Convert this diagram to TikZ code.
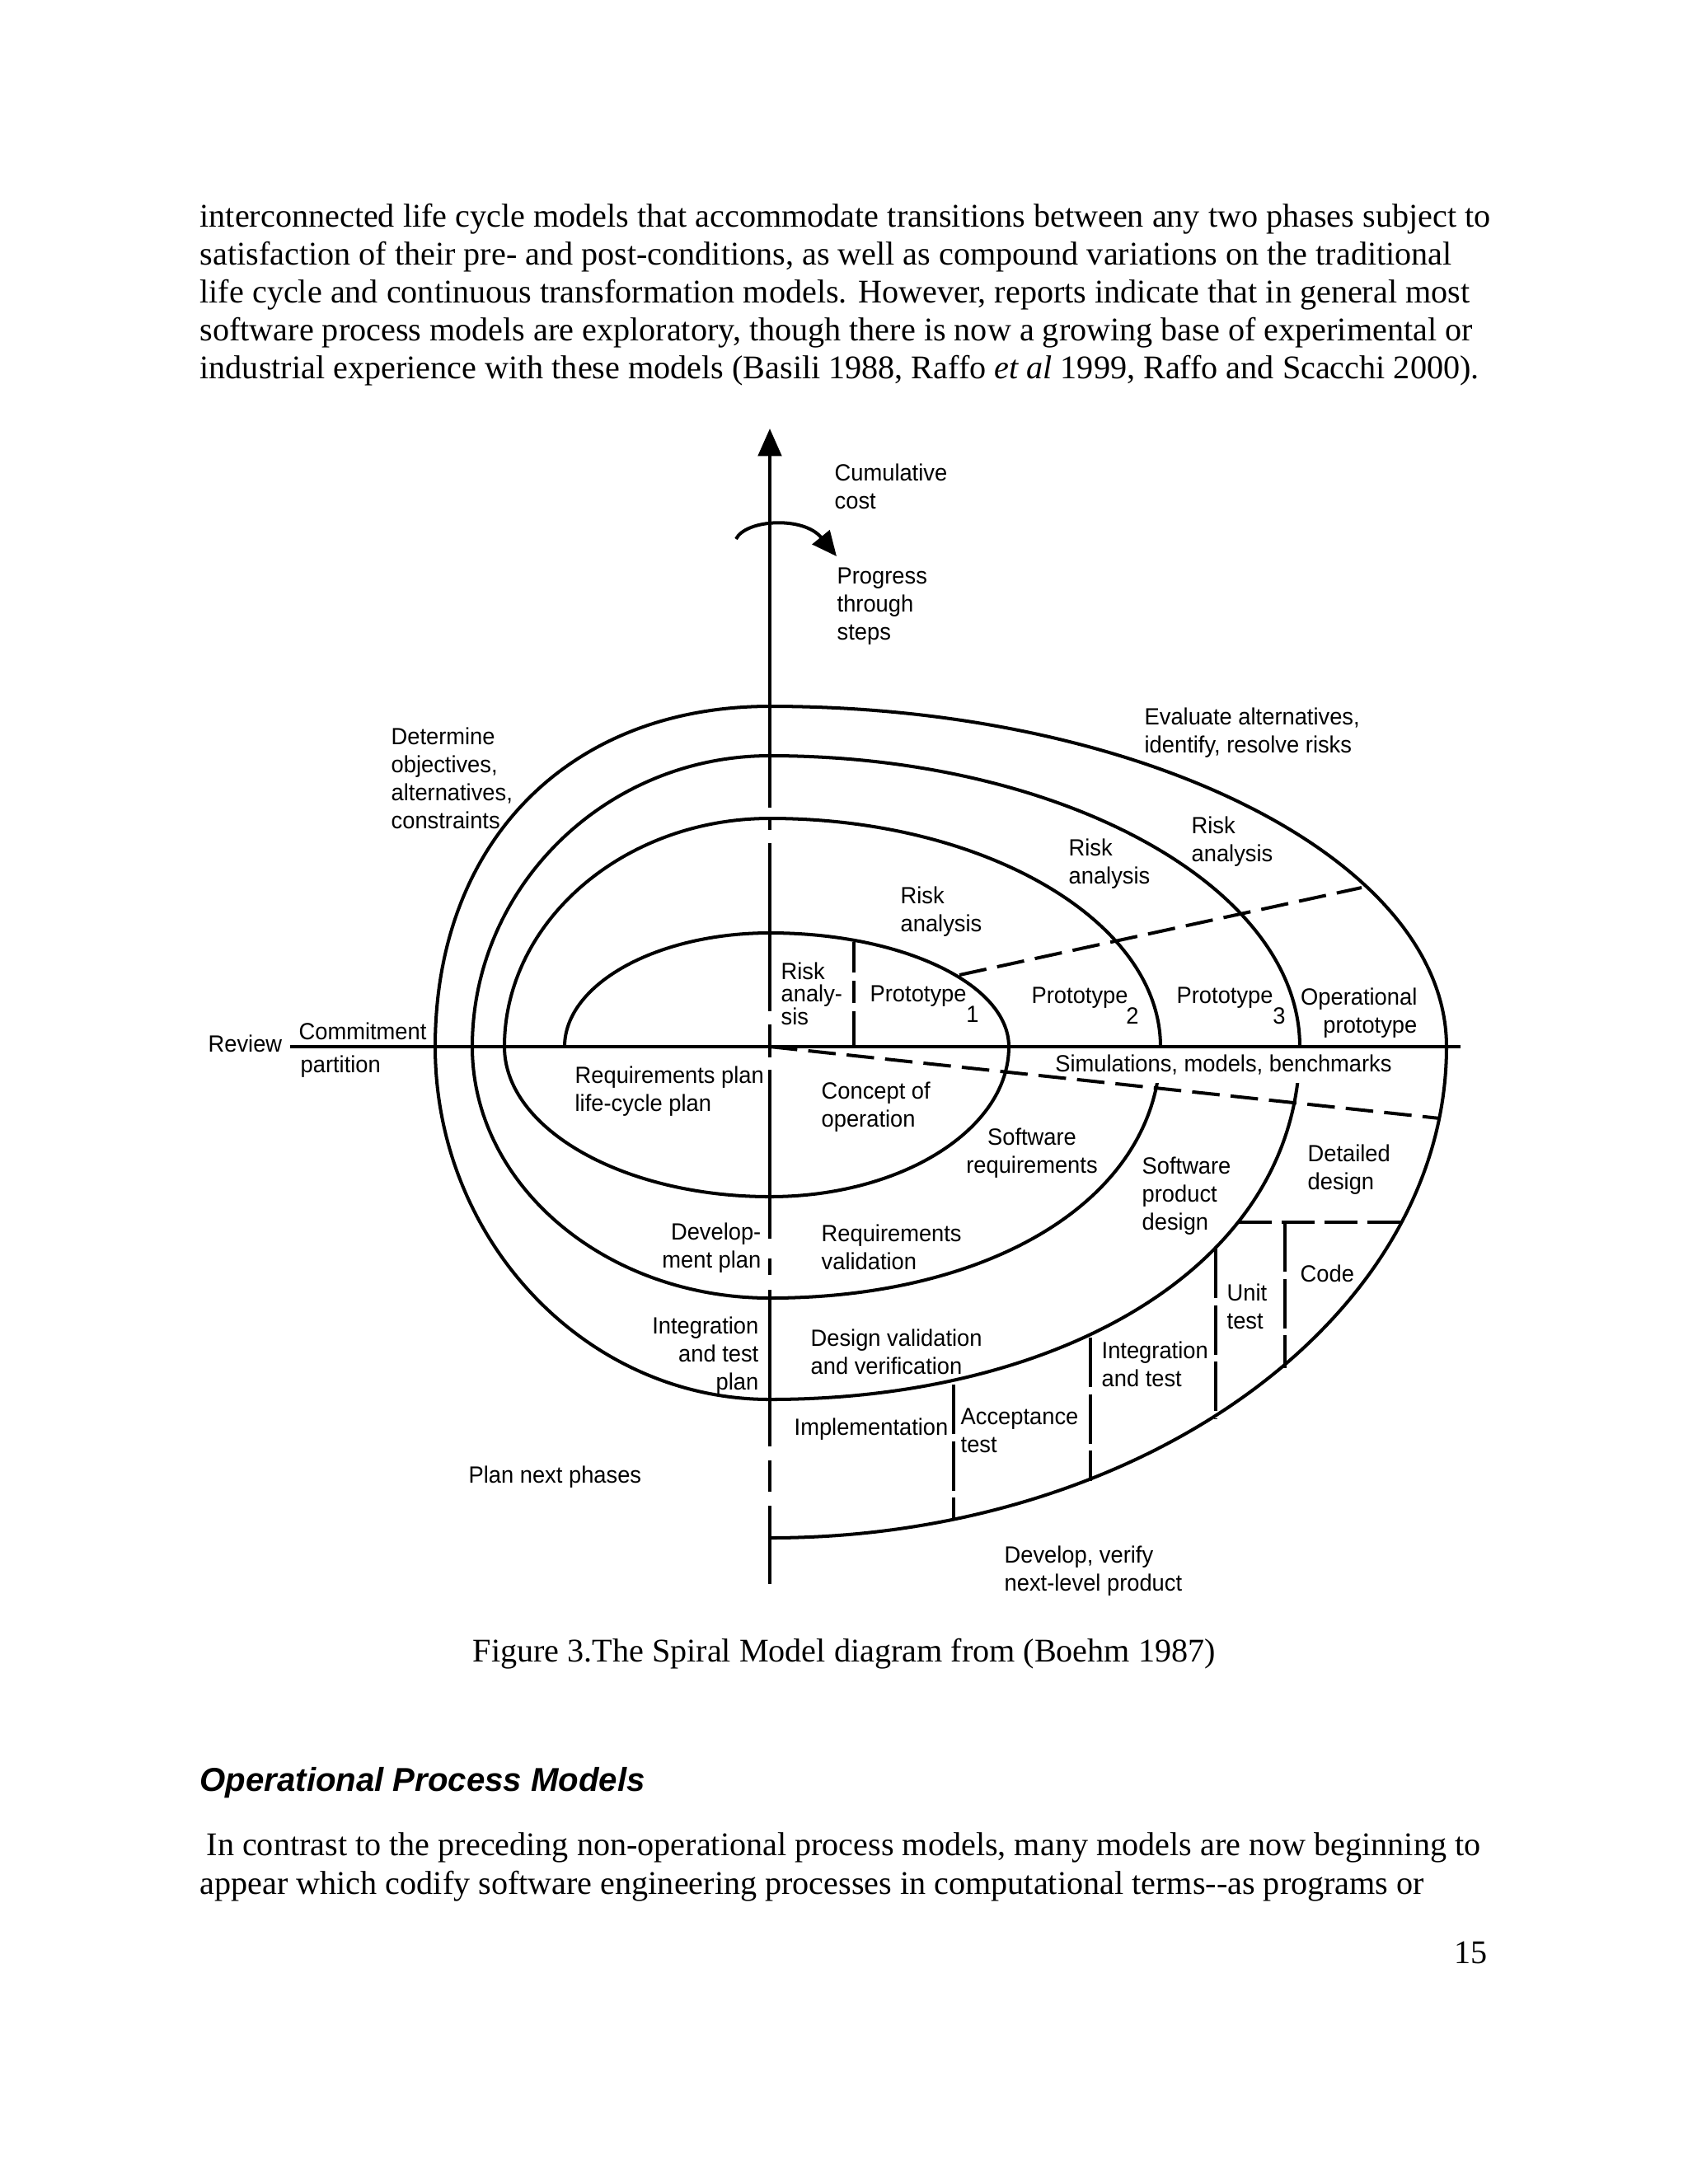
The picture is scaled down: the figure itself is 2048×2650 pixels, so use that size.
\documentclass[tikz,border=0pt]{standalone}
\usepackage{fontspec}
\setmainfont{Liberation Serif}
\newfontfamily\lblfont{Liberation Sans}[FakeStretch=0.96]
\newfontfamily\hdfont{Liberation Sans}
\usetikzlibrary{arrows.meta}
\begin{document}
\begin{tikzpicture}[x=0.29883pt,y=-0.29883pt,
  lbl/.style={font={\lblfont\fontsize{8.5}{10.2}\selectfont}, inner sep=0pt, align=left},
  body/.style={font={\fontsize{12}{13.8}\selectfont}, inner sep=0pt, anchor=base west},
  curve/.style={line width=1.2pt},
  axis/.style={line width=1.2pt},
  haxis/.style={line width=1.45pt},
  dline/.style={line width=1.2pt, dash pattern=on 10pt off 4pt},
  hdash/.style={line width=1.2pt, dash pattern=on 12pt off 3.5pt},
  vdash/.style={line width=1.2pt, dash pattern=on 18pt off 2.5pt}]
\fill[white] (0,0) rectangle (2048,2650);
\useasboundingbox (0,0) rectangle (2048,2650);

% body text
\node[body] (t1) at (242,275) {interconnected life cycle models that accommodate transitions between any two phases subject to};
\node[body] (t2) at (242,321) {satisfaction of their pre- and post-conditions, as well as compound variations on the traditional};
\node[body] (t3) at (242,367) {life cycle and continuous transformation models. However, reports indicate that in general most};
\node[body] (t4) at (242,413) {software process models are exploratory, though there is now a growing base of experimental or};
\node[body] (t5) at (242,459) {industrial experience with these models (Basili 1988, Raffo \textit{et al} 1999, Raffo and Scacchi 2000).};

% spiral
\draw[curve] (685,1270) .. controls (685,1194) and (797,1132) .. (934,1132)
 .. controls (1094,1132) and (1224,1194) .. (1224,1270)
 .. controls (1224,1370) and (1094,1452) .. (934,1452)
 .. controls (757,1452) and (612,1370) .. (612,1270)
 .. controls (612,1118) and (757,993) .. (934,993)
 .. controls (1195,993) and (1408,1118) .. (1408,1270)
 .. controls (1408,1453) and (1205,1575) .. (934,1575)
 .. controls (735,1575) and (573,1438) .. (573,1270)
 .. controls (573,1076) and (735,917) .. (934,917)
 .. controls (1288,917) and (1577,1076) .. (1577,1270)
 .. controls (1577,1535) and (1288,1698) .. (934,1698)
 .. controls (711,1698) and (528,1505) .. (528,1270)
 .. controls (528,1022) and (690,857) .. (934,857)
 .. controls (1386,857) and (1755,1043) .. (1755,1270)
 .. controls (1755,1598) and (1386,1866) .. (934,1866);

\node[lbl,anchor=west,fill=white,inner xsep=2pt,inner ysep=3pt] (sim) at (1273,1292) {Simulations, models, benchmarks};

% axes
\coordinate (Otop) at (934,520);
\coordinate (Oa) at (934,980);
\draw[axis,-{Triangle[length=10pt,width=8.5pt]}] (Oa) -- (Otop);
\draw[axis] (934,992)--(934,1007) (934,1023)--(934,1227) (934,1243)--(934,1283)
  (934,1298)--(934,1503) (934,1527)--(934,1547) (934,1565)--(934,1755)
  (934,1772)--(934,1810) (934,1827)--(934,1922);
\coordinate (Hl) at (352,1270);
\coordinate (Hr) at (1772,1270);
\draw[haxis] (Hl) -- (Hr);

% progress arrow
\coordinate (pa) at (893,654);
\coordinate (pb) at (1015,675);
\draw[line width=1.2pt,-{Triangle[length=9pt,width=8pt]}] (pa) .. controls (905,630) and (975,626) .. (pb);

% radial lines
\draw[axis] (1036,1143)--(1036,1180) (1036,1190)--(1036,1217) (1036,1227)--(1036,1270);
\coordinate (d1a) at (1164,1183);
\coordinate (d1b) at (1652,1077);
\draw[dline] (d1a) -- (d1b);
\coordinate (d2a) at (934,1270);
\coordinate (d2b) at (1747,1357);
\draw[dline] (d2a) -- (d2b);
\coordinate (h3a) at (1503,1483);
\coordinate (h3b) at (1700,1483);
\draw[hdash] (h3a) -- (h3b);
\draw[vdash] (1157,1680)--(1157,1845);
\draw[vdash] (1323,1623)--(1323,1797);
\draw[vdash] (1475,1515)--(1475,1722);
\draw[vdash] (1559,1483)--(1559,1660);

% labels
\node[lbl,anchor=north west] (cum) at (1012,562) {Cumulative\\cost};
\node[lbl,anchor=north west] (prog) at (1015,688) {Progress\\through\\steps};
\node[lbl,anchor=north west] (det) at (474,882) {Determine\\objectives,\\alternatives,\\constraints};
\node[lbl,anchor=north west] (eval) at (1388,858) {Evaluate alternatives,\\identify, resolve risks};
\node[lbl,anchor=north west] (ra4) at (1445,990) {Risk\\analysis};
\node[lbl,anchor=north west] (ra3) at (1296,1017) {Risk\\analysis};
\node[lbl,anchor=north west] (ra2) at (1092,1075) {Risk\\analysis};
\node[lbl,anchor=north west,font={\lblfont\fontsize{8.5}{8.2}\selectfont}] (ra1) at (947,1167) {Risk\\analy-\\sis};
\node[lbl,anchor=north west] (p1) at (1055,1195) {Prototype};
\node[lbl,anchor=north] (p1n) at (1180,1220) {1};
\node[lbl,anchor=north west] (p2) at (1251,1197) {Prototype};
\node[lbl,anchor=north] (p2n) at (1374,1222) {2};
\node[lbl,anchor=north west] (p3) at (1427,1197) {Prototype};
\node[lbl,anchor=north] (p3n) at (1552,1222) {3};
\node[lbl,anchor=north east,align=right] (op) at (1720,1198) {Operational\\prototype};
\node[lbl,anchor=north west] (rev) at (252,1255) {Review};
\node[lbl,anchor=north west] (com) at (362,1240) {Commitment};
\node[lbl,anchor=north west] (par) at (364,1280) {partition};
\node[lbl,anchor=north west] (rp) at (697,1293) {Requirements plan\\life-cycle plan};
\node[lbl,anchor=north west] (co) at (996,1312) {Concept of\\operation};
\node[lbl,anchor=north,align=center] (sr) at (1252,1368) {Software\\requirements};
\node[lbl,anchor=north west] (spd) at (1385,1403) {Software\\product\\design};
\node[lbl,anchor=north west] (dd) at (1586,1388) {Detailed\\design};
\node[lbl,anchor=north west] (code) at (1577,1534) {Code};
\node[lbl,anchor=north west] (ut) at (1488,1557) {Unit\\test};
\node[lbl,anchor=north east,align=right] (dp) at (924,1483) {Develop-\\ment plan};
\node[lbl,anchor=north west] (rv) at (996,1485) {Requirements\\validation};
\node[lbl,anchor=north east,align=right] (itp) at (921,1597) {Integration\\and test\\plan};
\node[lbl,anchor=north west] (dvv) at (983,1612) {Design validation\\and verification};
\node[lbl,anchor=north west] (it) at (1336,1627) {Integration\\and test};
\node[lbl,anchor=north west] (impl) at (963,1720) {Implementation};
\node[lbl,anchor=north west] (acc) at (1165,1708) {Acceptance\\test};
\node[lbl,anchor=north west] (pnp) at (568,1778) {Plan next phases};
\node[lbl,anchor=north west] (dev) at (1218,1875) {Develop, verify\\next-level product};

% caption and following text
\node[body] (cap) at (573,2016) {Figure 3.The Spiral Model diagram from (Boehm 1987)};
\node[body,font={\hdfont\bfseries\itshape\fontsize{12}{14}\selectfont}] (hd) at (242,2173) {Operational Process Models};
\node[body] (u1) at (250,2251) {In contrast to the preceding non-operational process models, many models are now beginning to};
\node[body] (u2) at (242,2298) {appear which codify software engineering processes in computational terms{-}{-}as programs or};
\node[body,anchor=base east] (pg) at (1805,2382) {15};
\end{tikzpicture}
\end{document}
